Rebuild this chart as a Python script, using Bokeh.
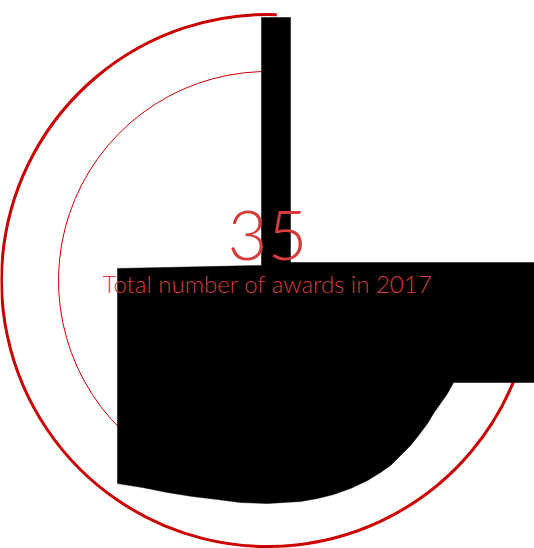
from bokeh.plotting import figure
from bokeh.models import Range1d
from bokeh.core.properties import value
from bokeh.embed import file_html
from bokeh.resources import INLINE
import numpy as np

# ---- data ----
total_awards = ["35"]
subtitle = ["Total number of awards in 2017"]

arc_radii = [266, 209]
arc_start_deg = [88, 88]
arc_end_deg = [340, 226]
arc_widths = [3, 1]
arc_colors = ["#cc0000", "#cc0000"]

# black filled artefact shape (data units, centre of rings at 0,0)
shape_x = [-150, -6, -6, 23, 23, 267, 267, 186, 180, 173, 166, 160, 151, 143, 133, 123, 113,
           100, 83, 66, 50, 33, 0, -27, -50, -75, -100, -125, -150]
shape_y = [12, 15, 263, 263, 18, 18, -102, -102, -113, -123, -133, -143, -155, -165, -175, -185, -192,
           -200, -208, -214, -218, -221, -223, -222, -219, -216, -212, -207, -203]

p = figure(width=534, height=548, output_backend="svg", toolbar_location=None,
           x_range=Range1d(-267, 267), y_range=Range1d(-268, 280),
           min_border=0)
p.axis.visible = False
p.grid.visible = False
p.outline_line_color = None
p.background_fill_color = "white"

for r, s, e, w, c in zip(arc_radii, arc_start_deg, arc_end_deg, arc_widths, arc_colors):
    p.arc(x=[0], y=[0], radius=r, start_angle=np.deg2rad(s), end_angle=np.deg2rad(e),
          direction="anticlock", line_color=c, line_width=w)

p.patch(x=shape_x, y=shape_y, fill_color="black", line_color="black", line_width=0.5)

p.text(x=[0], y=[45], text=total_awards, text_font=value("Lato Light"), text_font_size="69px",
       text_align="center", text_baseline="alphabetic", text_color="#d63c3c")
p.text(x=[0], y=[-3], text=subtitle, text_font=value("Lato Light"), text_font_size="24px",
       text_align="center", text_baseline="alphabetic", text_color="#d63c3c")

open("out.html", "w").write(file_html(p, INLINE))
